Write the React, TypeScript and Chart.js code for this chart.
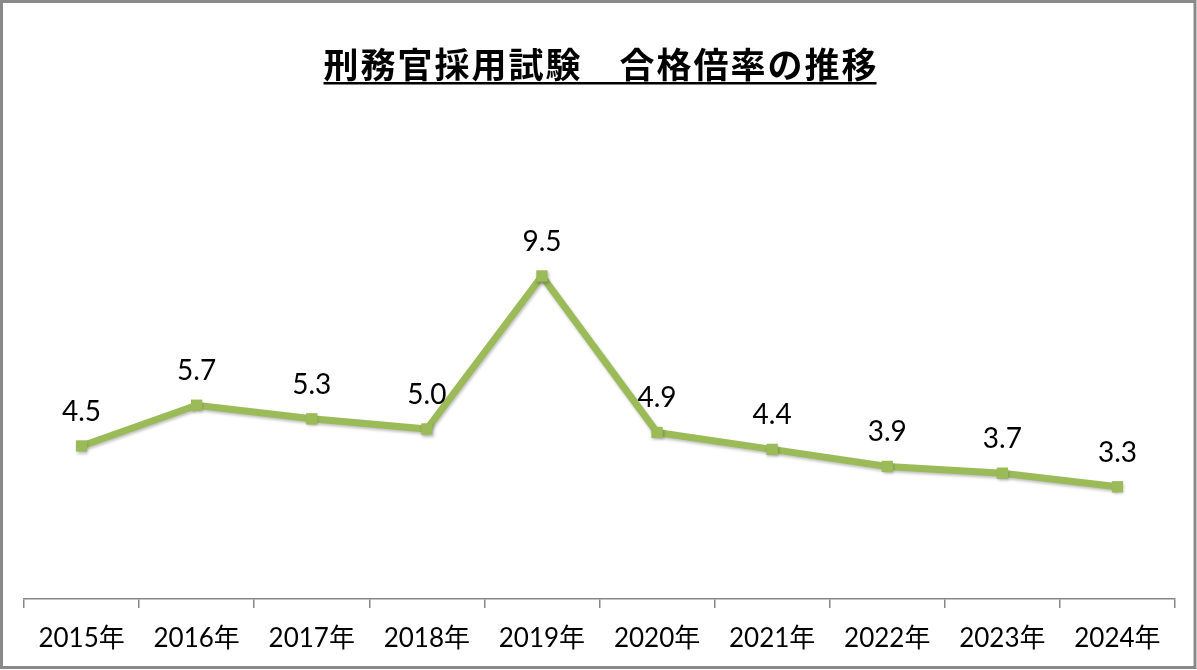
import { Chart, registerables } from 'chart.js';
import { useEffect, useRef } from 'react';

Chart.register(...registerables);

const title = '刑務官採用試験　合格倍率の推移';
const years = ['2015年', '2016年', '2017年', '2018年', '2019年', '2020年', '2021年', '2022年', '2023年', '2024年'];
const ratios = [4.5, 5.7, 5.3, 5.0, 9.5, 4.9, 4.4, 3.9, 3.7, 3.3];

const green = '#9BBB59';
const axisGray = '#878787';

// title with underline, frame around the whole picture
const decorations = {
    id: 'decorations',
    afterDraw(chart) {
        const ctx = chart.ctx;
        ctx.save();
        ctx.font = 'bold 35px "Noto Sans CJK JP"';
        ctx.letterSpacing = '2px';
        ctx.fillStyle = '#000';
        ctx.textAlign = 'left';
        ctx.textBaseline = 'alphabetic';
        const w = ctx.measureText(title).width;
        const x0 = 601 - w / 2;
        ctx.fillText(title, x0, 78);
        ctx.fillRect(x0, 82, w - 2, 2.5);

        ctx.strokeStyle = '#8a8a8a';
        ctx.lineWidth = 3;
        ctx.strokeRect(1.5, 1.5, 1193.5, 666);
        ctx.restore();
    }
};

// value labels above each point
const valueLabels = {
    id: 'valueLabels',
    afterDatasetsDraw(chart) {
        const ctx = chart.ctx;
        const meta = chart.getDatasetMeta(0);
        ctx.save();
        ctx.font = '28px Lato, "Noto Sans CJK JP"';
        ctx.fillStyle = '#000';
        ctx.textAlign = 'center';
        ctx.textBaseline = 'alphabetic';
        meta.data.forEach((pt, i) => {
            ctx.fillText(ratios[i].toFixed(1), pt.x, pt.y - 25);
        });
        ctx.restore();
    }
};

const shadow = {
    id: 'shadow',
    beforeDatasetsDraw(chart) {
        const ctx = chart.ctx;
        ctx.save();
        ctx.shadowColor = 'rgba(0,0,0,0.25)';
        ctx.shadowBlur = 3;
        ctx.shadowOffsetX = 1;
        ctx.shadowOffsetY = 2;
    },
    afterDatasetsDraw(chart) {
        chart.ctx.restore();
    }
};

export default function App() {
    const chartRef = useRef(null);

    useEffect(() => {
        document.body.style.margin = '0';

        const myChart = new Chart(chartRef.current, {
            type: 'line',
            data: {
                labels: years,
                datasets: [{
                    data: ratios,
                    borderColor: green,
                    backgroundColor: green,
                    borderWidth: 7,
                    pointStyle: 'rect',
                    pointRadius: 8,
                    pointBorderWidth: 0,
                    tension: 0
                }]
            },
            options: {
                responsive: false,
                animation: false,
                layout: {
                    padding: { left: 24, right: 22, top: 259, bottom: 0 }
                },
                plugins: {
                    legend: { display: false },
                    tooltip: { enabled: false }
                },
                scales: {
                    x: {
                        offset: true,
                        grid: {
                            offset: true,
                            drawOnChartArea: false,
                            drawTicks: true,
                            tickLength: 9,
                            color: axisGray,
                            lineWidth: 1.5
                        },
                        border: { display: true, color: axisGray, width: 1.5 },
                        ticks: {
                            color: '#000',
                            padding: 15,
                            maxRotation: 0,
                            font: { family: 'Lato, "Noto Sans CJK JP"', size: 26 }
                        },
                        afterFit(scale) {
                            scale.height = 71;
                        }
                    },
                    y: {
                        display: false,
                        min: 0,
                        max: 10
                    }
                }
            },
            plugins: [shadow, valueLabels, decorations]
        });

        return () => {
            myChart.destroy();
        };
    }, []);

    return (
        <canvas ref={chartRef} width={1197} height={670}></canvas>
    );
}
